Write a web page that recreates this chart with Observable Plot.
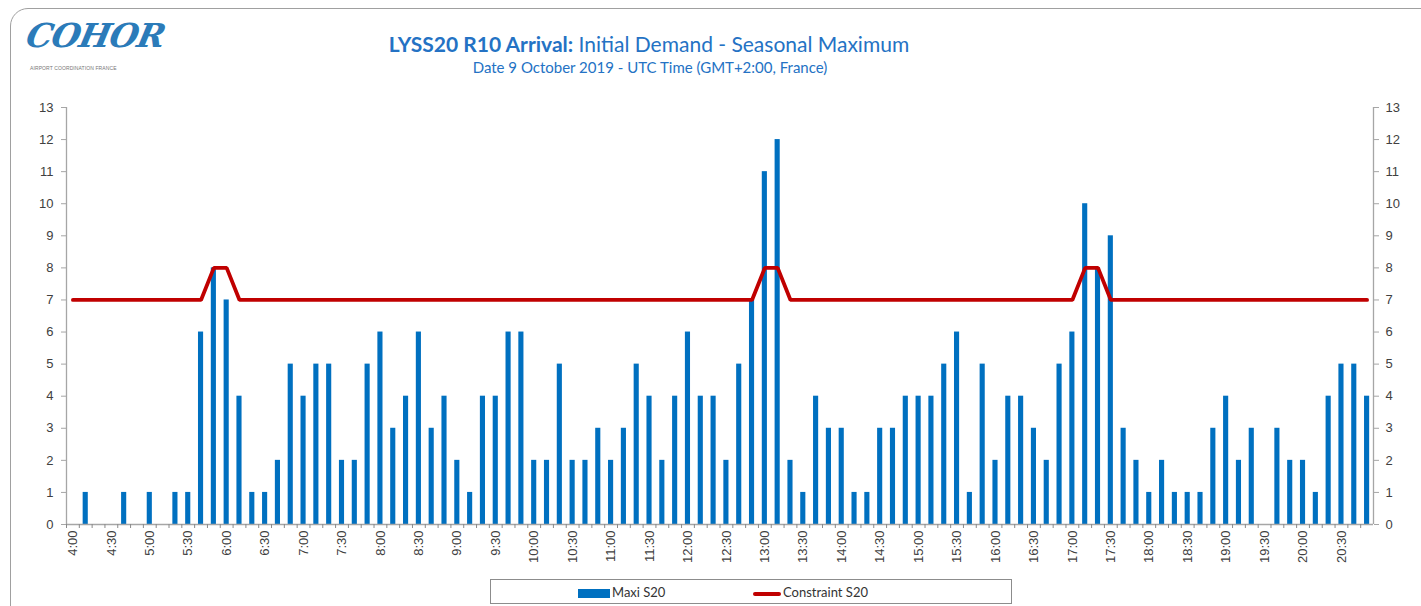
<!DOCTYPE html>
<html>
<head>
<meta charset="utf-8">
<script src="https://cdn.jsdelivr.net/npm/d3@7"></script>
<script src="https://cdn.jsdelivr.net/npm/@observablehq/plot@0.6"></script>
<style>
  html, body { margin: 0; padding: 0; background: #fff; overflow: hidden; }
  body { width: 1421px; height: 606px; position: relative; font-family: Lato, "Open Sans", sans-serif; }
  #frame { position: absolute; left: 10px; top: 8px; width: 1440px; height: 620px; border: 1.5px solid #a0a0a0; border-radius: 18px; box-sizing: border-box; }
  #logo { position: absolute; left: 27px; top: 16px; font-family: "DejaVu Serif", serif; font-style: italic; font-weight: bold; font-size: 33px; color: #2b7bb9; letter-spacing: -1px; transform: skewX(-12deg); }
  #logosub { position: absolute; left: 30px; top: 65px; font-family: "Liberation Sans", sans-serif; font-size: 5px; color: #777; letter-spacing: 0.1px; }
  #title { position: absolute; left: 0; width: 1298px; top: 31px; text-align: center; font-size: 21px; color: #2472c4; }
  #title b { font-weight: bold; }
  #subtitle { position: absolute; left: 0; width: 1300px; top: 58px; text-align: center; font-size: 15px; color: #2472c4; }
  #chart { position: absolute; left: 0; top: 95px; }
  #legend { position: absolute; left: 490px; top: 579px; width: 522px; height: 25px; border: 1px solid #8c8c8c; box-sizing: border-box; font-size: 13px; color: #333; }
  .item { position: absolute; top: 4px; height: 16px; line-height: 16px; }
  .sw { display: inline-block; vertical-align: middle; margin-right: 2px; }
</style>
</head>
<body>
<div id="frame"></div>
<div id="logo">COHOR</div>
<div id="logosub">AIRPORT COORDINATION FRANCE</div>
<div id="title"><b>LYSS20 R10 Arrival:</b> Initial Demand - Seasonal Maximum</div>
<div id="subtitle">Date 9 October 2019 - UTC Time (GMT+2:00, France)</div>
<div id="chart"></div>
<div id="legend">
  <div class="item" style="left:87px"><span class="sw" style="width:32px;height:9px;background:#0070c0"></span>Maxi S20</div>
  <div class="item" style="left:262px"><span class="sw" style="width:28px;height:4px;background:#c00000;border-radius:2px"></span>Constraint S20</div>
</div>
<script>
const times = [
  "4:00","4:10","4:20","4:30","4:40","4:50",
  "5:00","5:10","5:20","5:30","5:40","5:50",
  "6:00","6:10","6:20","6:30","6:40","6:50",
  "7:00","7:10","7:20","7:30","7:40","7:50",
  "8:00","8:10","8:20","8:30","8:40","8:50",
  "9:00","9:10","9:20","9:30","9:40","9:50",
  "10:00","10:10","10:20","10:30","10:40","10:50",
  "11:00","11:10","11:20","11:30","11:40","11:50",
  "12:00","12:10","12:20","12:30","12:40","12:50",
  "13:00","13:10","13:20","13:30","13:40","13:50",
  "14:00","14:10","14:20","14:30","14:40","14:50",
  "15:00","15:10","15:20","15:30","15:40","15:50",
  "16:00","16:10","16:20","16:30","16:40","16:50",
  "17:00","17:10","17:20","17:30","17:40","17:50",
  "18:00","18:10","18:20","18:30","18:40","18:50",
  "19:00","19:10","19:20","19:30","19:40","19:50",
  "20:00","20:10","20:20","20:30","20:40","20:50"
];
const maxiS20 = [
  0,1,0,0,1,0,
  1,0,1,1,6,8,
  7,4,1,1,2,5,
  4,5,5,2,2,5,
  6,3,4,6,3,4,
  2,1,4,4,6,6,
  2,2,5,2,2,3,
  2,3,5,4,2,4,
  6,4,4,2,5,7,
  11,12,2,1,4,3,
  3,1,1,3,3,4,
  4,4,5,6,1,5,
  2,4,4,3,2,5,
  6,10,8,9,3,2,
  1,2,1,1,1,3,
  4,2,3,0,3,2,
  2,1,4,5,5,4
];
const constraintS20 = [
  7,7,7,7,7,7,
  7,7,7,7,7,8,
  8,7,7,7,7,7,
  7,7,7,7,7,7,
  7,7,7,7,7,7,
  7,7,7,7,7,7,
  7,7,7,7,7,7,
  7,7,7,7,7,7,
  7,7,7,7,7,7,
  8,8,7,7,7,7,
  7,7,7,7,7,7,
  7,7,7,7,7,7,
  7,7,7,7,7,7,
  7,8,8,7,7,7,
  7,7,7,7,7,7,
  7,7,7,7,7,7,
  7,7,7,7,7,7
];
const xTickLabels = [
  "4:00","4:30","5:00","5:30","6:00","6:30","7:00","7:30","8:00","8:30",
  "9:00","9:30","10:00","10:30","11:00","11:30","12:00","12:30","13:00","13:30",
  "14:00","14:30","15:00","15:30","16:00","16:30","17:00","17:30","18:00","18:30",
  "19:00","19:30","20:00","20:30"
];
const yTicks = [0,1,2,3,4,5,6,7,8,9,10,11,12,13];

const data = times.map((t, i) => ({time: t, maxi: maxiS20[i], constraint: constraintS20[i]}));

const W = 1421, H = 500, mL = 66, mR = 48, mT = 12, mB = 71;
const step = (W - mL - mR) / times.length;
const axisGray = "#a6a6a6";
const textColor = "#404040";

const chart = Plot.plot({
  width: W, height: H,
  marginLeft: mL, marginRight: mR, marginTop: mT, marginBottom: mB,
  style: {fontFamily: "'Liberation Sans', Arial, sans-serif", fontSize: "13px", color: textColor, background: "transparent", overflow: "visible"},
  x: {type: "band", domain: times, paddingInner: 0.6, paddingOuter: 0.3},
  y: {domain: [0, 13]},
  marks: [
    Plot.barY(data, {x: "time", y: "maxi", fill: "#0070c0"}),
    Plot.lineY(data, {x: "time", y: "constraint", stroke: "#c00000", strokeWidth: 3.8, strokeLinejoin: "miter"}),
    Plot.ruleY([0], {stroke: axisGray, strokeWidth: 1.3}),
    Plot.ruleX([times[0]], {y1: 0, y2: 13, dx: -step / 2, stroke: axisGray, strokeWidth: 1.3}),
    Plot.ruleX([times[times.length - 1]], {y1: 0, y2: 13, dx: step / 2, stroke: axisGray, strokeWidth: 1.3}),
    Plot.axisY({anchor: "left", ticks: yTicks, tickSize: 5, tickPadding: 8, stroke: axisGray, fill: textColor, label: null, tickFormat: d => String(d)}),
    Plot.axisY({anchor: "right", ticks: yTicks, tickSize: 5, tickPadding: 7, stroke: axisGray, fill: textColor, label: null, tickFormat: d => String(d)}),
    Plot.axisX({ticks: times, tickSize: 4, tickFormat: () => "", dx: -step / 2, stroke: "#8a8a8a", label: null}),
    Plot.axisX({ticks: xTickLabels, tickSize: 0, tickPadding: 6, tickRotate: -90, fill: textColor, label: null, fontSize: 13})
  ]
});
document.getElementById("chart").appendChild(chart);
</script>
</body>
</html>
